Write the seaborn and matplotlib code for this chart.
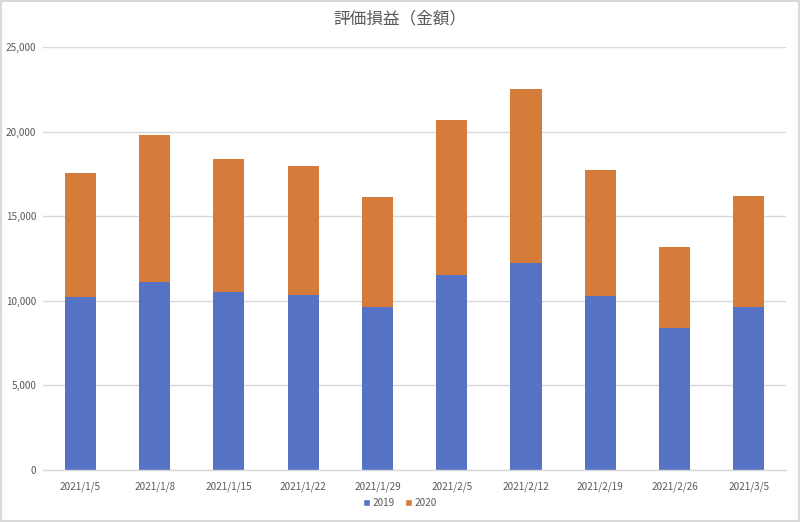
import matplotlib
matplotlib.use("Agg")
import matplotlib.pyplot as plt
import seaborn as sns
import pandas as pd
import numpy as np
from matplotlib.patches import Patch, Rectangle
from matplotlib.ticker import FuncFormatter

dates = ["2021/1/5", "2021/1/8", "2021/1/15", "2021/1/22", "2021/1/29",
         "2021/2/5", "2021/2/12", "2021/2/19", "2021/2/26", "2021/3/5"]
v2019 = [10200, 11100, 10530, 10340, 9630, 11500, 12210, 10280, 8400, 9630]
v2020 = [7360, 8720, 7870, 7610, 6510, 9210, 10320, 7470, 4780, 6560]

sns.set_theme(style="white")
plt.rcParams['font.family'] = ['Noto Sans CJK JP', 'DejaVu Sans']

df = pd.DataFrame({"date": dates, "2019": v2019, "2020": v2020})
df["total"] = df["2019"] + df["2020"]

blue = "#5572C5"
orange = "#D67C3A"
text_c = "#595959"

fig = plt.figure(figsize=(8, 5.22), dpi=100)
ax = fig.add_axes([0.054, 0.0996, 0.9285, 0.8104])

sns.barplot(data=df, x="date", y="total", color=orange, width=0.42, ax=ax,
            saturation=1, order=dates, edgecolor="none")
sns.barplot(data=df, x="date", y="2019", color=blue, width=0.42, ax=ax,
            saturation=1, order=dates, edgecolor="none")

ax.set_ylim(0, 25000)
ax.set_xlim(-0.5, len(dates) - 0.5)
ax.set_yticks(np.arange(0, 25001, 5000))
ax.yaxis.set_major_formatter(FuncFormatter(lambda v, p: f"{int(v):,}"))
ax.set_xlabel("")
ax.set_ylabel("")
ax.grid(axis="y", color="#d9d9d9", linewidth=1)
ax.set_axisbelow(True)
for s in ["top", "right", "left"]:
    ax.spines[s].set_visible(False)
ax.spines["bottom"].set_color("#d9d9d9")
ax.spines["bottom"].set_linewidth(1)
ax.tick_params(axis="both", length=0, labelsize=7.2, labelcolor=text_c)
ax.tick_params(axis="y", pad=5)
ax.tick_params(axis="x", pad=8)

fig.text(0.5, 1 - 19 / 522, "評価損益（金額）", ha="center", va="center",
         fontsize=12, color=text_c)

handles = [Patch(facecolor=blue, label="2019"), Patch(facecolor=orange, label="2020")]
fig.legend(handles=handles, loc="center", bbox_to_anchor=(0.5, 1 - 503 / 522),
           ncol=2, frameon=False, fontsize=7.2, labelcolor=text_c,
           handlelength=0.7, handleheight=0.7, handletextpad=0.3, columnspacing=1.0)

fig.patches.append(Rectangle((0.001, 0.001), 0.998, 0.997, transform=fig.transFigure,
                             fill=False, edgecolor="#d9d9d9", linewidth=1.5))

fig.savefig("out.png", dpi=100, facecolor="white")
